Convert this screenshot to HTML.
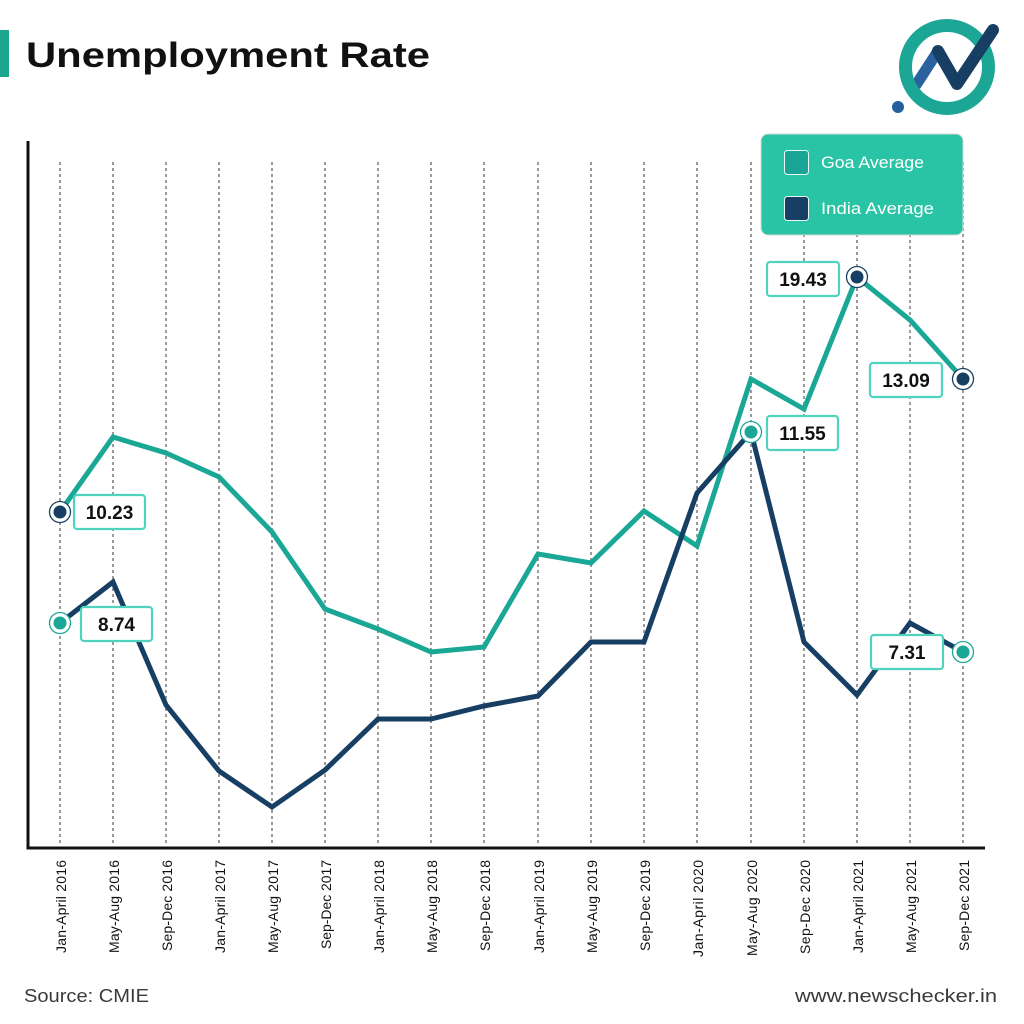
<!DOCTYPE html>
<html><head><meta charset="utf-8"><style>html,body{margin:0;padding:0;background:#fff}svg{display:block}</style></head>
<body>
<svg width="1024" height="1024" viewBox="0 0 1024 1024" xmlns="http://www.w3.org/2000/svg" font-family="'Liberation Sans', sans-serif">
<rect width="1024" height="1024" fill="#fff"/>
<!-- title -->
<rect x="0" y="30" width="9" height="47" fill="#1ba68e"/>
<text x="26" y="67" font-size="35" font-weight="bold" fill="#111" textLength="404" lengthAdjust="spacingAndGlyphs">Unemployment Rate</text>
<!-- logo -->
<line x1="916" y1="85" x2="938" y2="51" stroke="#2a619e" stroke-width="11" stroke-linecap="round"/>
<circle cx="947" cy="67" r="41.5" fill="none" stroke="#1ba696" stroke-width="13"/>
<polyline points="938,51 957,84 993,30" fill="none" stroke="#173f63" stroke-width="12" stroke-linecap="round" stroke-linejoin="round"/>
<circle cx="898" cy="107" r="6" fill="#255f9e"/>
<!-- grid -->
<g stroke="#9a9a9a" stroke-width="2" stroke-dasharray="3 3">
<line x1="60" y1="162" x2="60" y2="845"/><line x1="113" y1="162" x2="113" y2="845"/><line x1="166" y1="162" x2="166" y2="845"/><line x1="219" y1="162" x2="219" y2="845"/><line x1="272" y1="162" x2="272" y2="845"/><line x1="325" y1="162" x2="325" y2="845"/><line x1="378" y1="162" x2="378" y2="845"/><line x1="431" y1="162" x2="431" y2="845"/><line x1="484" y1="162" x2="484" y2="845"/><line x1="538" y1="162" x2="538" y2="845"/><line x1="591" y1="162" x2="591" y2="845"/><line x1="644" y1="162" x2="644" y2="845"/><line x1="697" y1="162" x2="697" y2="845"/><line x1="751" y1="162" x2="751" y2="845"/><line x1="804" y1="162" x2="804" y2="845"/><line x1="857" y1="162" x2="857" y2="845"/><line x1="910" y1="162" x2="910" y2="845"/><line x1="963" y1="162" x2="963" y2="845"/>
</g>
<!-- axes -->
<polyline points="28,141 28,848 985,848" fill="none" stroke="#111" stroke-width="3"/>
<!-- series -->
<polyline points="60,512 113,437 166,453 219,477 272,532 325,609 378,629 431,652 484,647 538,554 591,563 644,511 697,546 751,379 804,409 857,277 910,320 963,379" fill="none" stroke="#1aa795" stroke-width="5" stroke-linejoin="miter"/>
<polyline points="60,623 113,582 166,705 219,771 272,807 325,770 378,719 431,719 484,706 538,696 591,642 644,642 697,493 751,432 804,642 857,695 910,623 963,652" fill="none" stroke="#173f63" stroke-width="5" stroke-linejoin="miter"/>
<!-- markers -->
<g>
<circle cx="60" cy="512" r="10.5" fill="#fff" stroke="#173f63" stroke-width="1.3"/><circle cx="60" cy="512" r="6.5" fill="#173f63"/>
<circle cx="60" cy="623" r="10.5" fill="#fff" stroke="#1aa795" stroke-width="1.3"/><circle cx="60" cy="623" r="6.5" fill="#1aa795"/>
<circle cx="751" cy="432" r="10.5" fill="#fff" stroke="#1aa795" stroke-width="1.3"/><circle cx="751" cy="432" r="6.5" fill="#1aa795"/>
<circle cx="857" cy="277" r="10.5" fill="#fff" stroke="#173f63" stroke-width="1.3"/><circle cx="857" cy="277" r="6.5" fill="#173f63"/>
<circle cx="963" cy="379" r="10.5" fill="#fff" stroke="#173f63" stroke-width="1.3"/><circle cx="963" cy="379" r="6.5" fill="#173f63"/>
<circle cx="963" cy="652" r="10.5" fill="#fff" stroke="#1aa795" stroke-width="1.3"/><circle cx="963" cy="652" r="6.5" fill="#1aa795"/>
</g>
<!-- value labels -->
<g stroke="#4fd3bf" stroke-width="2.2" fill="#fff">
<rect x="74" y="495" width="71" height="34" rx="3"/>
<rect x="81" y="607" width="71" height="34" rx="3"/>
<rect x="767" y="262" width="72" height="34" rx="3"/>
<rect x="870" y="363" width="72" height="34" rx="3"/>
<rect x="767" y="416" width="71" height="34" rx="3"/>
<rect x="871" y="635" width="72" height="34" rx="3"/>
</g>
<g font-size="19" font-weight="bold" fill="#111" text-anchor="middle">
<text x="109.5" y="519">10.23</text>
<text x="116.5" y="631">8.74</text>
<text x="803" y="286">19.43</text>
<text x="906" y="387">13.09</text>
<text x="802.5" y="440">11.55</text>
<text x="907" y="659">7.31</text>
</g>
<!-- legend -->
<rect x="761" y="134" width="202" height="101" rx="7" fill="#29c4a5" stroke="#d8d8d8" stroke-width="1"/>
<rect x="784.5" y="150.5" width="24" height="24" rx="3" fill="#19a596" stroke="#e8f8f4" stroke-width="1"/>
<rect x="784.5" y="196.5" width="24" height="24" rx="3" fill="#173f63" stroke="#e8f8f4" stroke-width="1"/>
<text x="821" y="168" font-size="17" fill="#fff" textLength="103" lengthAdjust="spacingAndGlyphs">Goa Average</text>
<text x="821" y="214" font-size="17" fill="#fff" textLength="113" lengthAdjust="spacingAndGlyphs">India Average</text>
<!-- x labels -->
<g font-size="14" fill="#111" text-anchor="end" lengthAdjust="spacingAndGlyphs">
<text transform="translate(66,860) rotate(-90)" textLength="93">Jan-April 2016</text>
<text transform="translate(119,860) rotate(-90)" textLength="93">May-Aug 2016</text>
<text transform="translate(172,860) rotate(-90)" textLength="91">Sep-Dec 2016</text>
<text transform="translate(225,860) rotate(-90)" textLength="93">Jan-April 2017</text>
<text transform="translate(278,860) rotate(-90)" textLength="93">May-Aug 2017</text>
<text transform="translate(331,860) rotate(-90)" textLength="89">Sep-Dec 2017</text>
<text transform="translate(384,860) rotate(-90)" textLength="93">Jan-April 2018</text>
<text transform="translate(437,860) rotate(-90)" textLength="93">May-Aug 2018</text>
<text transform="translate(490,860) rotate(-90)" textLength="91">Sep-Dec 2018</text>
<text transform="translate(544,860) rotate(-90)" textLength="93">Jan-April 2019</text>
<text transform="translate(597,860) rotate(-90)" textLength="93">May-Aug 2019</text>
<text transform="translate(650,860) rotate(-90)" textLength="91">Sep-Dec 2019</text>
<text transform="translate(703,860) rotate(-90)" textLength="97">Jan-April 2020</text>
<text transform="translate(757,860) rotate(-90)" textLength="96">May-Aug 2020</text>
<text transform="translate(810,860) rotate(-90)" textLength="94">Sep-Dec 2020</text>
<text transform="translate(863,860) rotate(-90)" textLength="93">Jan-April 2021</text>
<text transform="translate(916,860) rotate(-90)" textLength="93">May-Aug 2021</text>
<text transform="translate(969,860) rotate(-90)" textLength="91">Sep-Dec 2021</text>
</g>
<!-- footer -->
<text x="24" y="1002" font-size="18" fill="#3a3a3a" textLength="125" lengthAdjust="spacingAndGlyphs">Source: CMIE</text>
<text x="795" y="1002" font-size="18" fill="#3a3a3a" textLength="202" lengthAdjust="spacingAndGlyphs">www.newschecker.in</text>
</svg>
</body></html>
